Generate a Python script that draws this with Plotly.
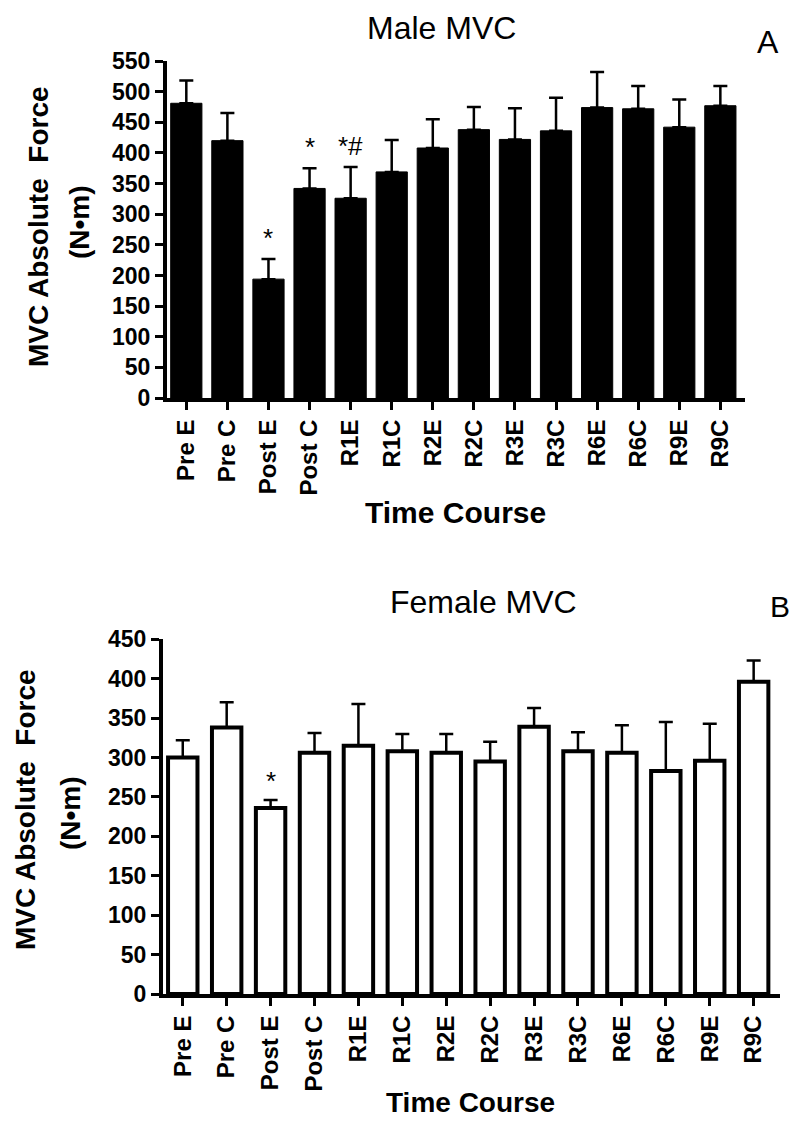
import plotly.graph_objects as go

categories = ["Pre E", "Pre C", "Post E", "Post C", "R1E", "R1C", "R2E", "R2C",
              "R3E", "R3C", "R6E", "R6C", "R9E", "R9C"]
male_mean = [481, 420, 194, 342, 326, 369, 408, 438, 422, 436, 474, 472, 442, 477]
male_sem = [37, 45, 33, 33, 51, 52, 47, 37, 51, 54, 58, 37, 45, 32]
female_mean = [300, 338, 236, 306, 315, 308, 306, 295, 339, 308, 306, 283, 296, 396]
female_sem = [22, 32, 10, 25, 53, 22, 24, 25, 24, 24, 35, 62, 47, 27]
male_marks = {"Post E": "*", "Post C": "*", "R1E": "*#"}
female_marks = {"Post E": "*"}
y_ticks_male = list(range(0, 551, 50))
y_ticks_female = list(range(0, 451, 50))

FONT = "Liberation Sans, Arial, sans-serif"
# page body has an 8px margin; size the figure so the page is exactly 800x1127
OFF = 8
W, H = 800 - 2 * OFF, 1127 - 2 * OFF


def fx(x):
    return (x - OFF) / W


def fy(y):
    return 1 - (y - OFF) / H


fig = go.Figure()

fig.add_trace(go.Bar(
    x=categories, y=male_mean, xaxis="x", yaxis="y", width=0.76,
    marker=dict(color="black", line=dict(color="black", width=1)),
    error_y=dict(type="data", array=male_sem, arrayminus=[0] * len(male_sem),
                 symmetric=False, color="black", thickness=2.5, width=7),
    showlegend=False,
))
fig.add_trace(go.Bar(
    x=categories, y=female_mean, xaxis="x2", yaxis="y2", width=0.67,
    marker=dict(color="white", line=dict(color="black", width=4)),
    error_y=dict(type="data", array=female_sem, arrayminus=[0] * len(female_sem),
                 symmetric=False, color="black", thickness=2.5, width=7),
    showlegend=False,
))

xcommon = dict(type="category", showline=True, linecolor="black", linewidth=4,
               ticks="outside", ticklen=8, tickwidth=3, tickcolor="black",
               tickangle=-90, showgrid=False, zeroline=False, automargin=False,
               tickfont=dict(family=FONT, size=24, color="black", weight="bold"),
               categoryorder="array", categoryarray=categories)
ycommon = dict(showline=True, linecolor="black", linewidth=4,
               ticks="outside", ticklen=8, tickwidth=3, tickcolor="black",
               showgrid=False, zeroline=False, automargin=False,
               tickfont=dict(family=FONT, size=23, color="black", weight="bold"))

fig.update_layout(
    width=W, height=H, margin=dict(l=0, r=0, t=0, b=0, pad=0, autoexpand=False),
    paper_bgcolor="white", plot_bgcolor="white",
    xaxis=dict(xcommon, domain=[fx(167), fx(745)], range=[-0.47, 13.6], anchor="y"),
    yaxis=dict(ycommon, domain=[fy(398), fy(61)], range=[0, 550],
               tickvals=y_ticks_male, anchor="x"),
    xaxis2=dict(xcommon, domain=[fx(163), fx(780)], range=[-0.45, 13.6], anchor="y2"),
    yaxis2=dict(ycommon, domain=[fy(994), fy(639.3)], range=[0, 450],
                tickvals=y_ticks_female, anchor="x2"),
)

ann = []


def text(x, y, s, size, bold=False, angle=0):
    ann.append(dict(x=fx(x), y=fy(y), xref="paper", yref="paper", text=s,
                    showarrow=False, textangle=angle, xanchor="center", yanchor="middle",
                    font=dict(family=FONT, size=size, color="black",
                              weight="bold" if bold else "normal")))


text(441, 28, "Male MVC", 32)
text(768, 42, "A", 32)
text(484, 602, "Female MVC", 32)
text(780, 606, "B", 30)
text(455, 512, "Time Course", 30, bold=True)
text(470, 1102, "Time Course", 28, bold=True)
text(38, 227, "MVC Absolute  Force", 28, bold=True, angle=-90)
text(79, 222, "(N•m)", 28, bold=True, angle=-90)
text(26, 810, "MVC Absolute  Force", 28, bold=True, angle=-90)
text(70, 813, "(N•m)", 28, bold=True, angle=-90)

for cat, s in male_marks.items():
    i = categories.index(cat)
    ann.append(dict(x=cat, y=male_mean[i] + male_sem[i], xref="x", yref="y",
                    text=s, showarrow=False, yanchor="bottom", yshift=4,
                    font=dict(family=FONT, size=26, color="black")))
for cat, s in female_marks.items():
    i = categories.index(cat)
    ann.append(dict(x=cat, y=female_mean[i] + female_sem[i], xref="x2", yref="y2",
                    text=s, showarrow=False, yanchor="bottom", yshift=2,
                    font=dict(family=FONT, size=26, color="black")))

fig.update_layout(annotations=ann)
fig.write_html("out.html")
